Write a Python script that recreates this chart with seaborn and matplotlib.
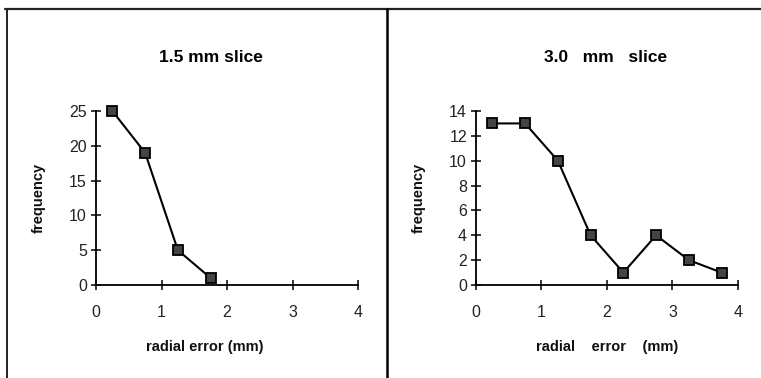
import matplotlib
matplotlib.use("Agg")
import matplotlib.pyplot as plt
import seaborn as sns
import pandas as pd
from matplotlib.lines import Line2D

sns.set_theme(style="white")
plt.rcParams['font.family'] = ['Liberation Sans', 'DejaVu Sans']

# Data
x_left = [0.25, 0.75, 1.25, 1.75]
freq_left = [25, 19, 5, 1]
x_right = [0.25, 0.75, 1.25, 1.75, 2.25, 2.75, 3.25, 3.75]
freq_right = [13, 13, 10, 4, 1, 4, 2, 1]
titles = ["1.5 mm slice", "3.0   mm   slice"]
xlabels = ["radial error (mm)", "radial    error    (mm)"]
yticks_left = [0, 5, 10, 15, 20, 25]
yticks_right = [0, 2, 4, 6, 8, 10, 12, 14]
xticks = [0, 1, 2, 3, 4]

W, H = 761, 378
fig = plt.figure(figsize=(W / 100, H / 100), dpi=100)
fig.patch.set_facecolor("white")

def fx(px):
    return px / W

def fy(py):
    return 1 - py / H

panels = [
    (96, x_left, freq_left, yticks_left, 25, titles[0], xlabels[0], 211, 205),
    (476, x_right, freq_right, yticks_right, 14, titles[1], xlabels[1], 606, 607),
]

for (x0, xs, ys, yt, ymax, title, xlabel, tx, lx) in panels:
    ax = fig.add_axes([fx(x0), fy(285), (358 - 96) / W, (285 - 111) / H])
    df = pd.DataFrame({"x": xs, "y": ys})
    sns.lineplot(data=df, x="x", y="y", ax=ax, color="black", lw=1.5,
                 marker="s", markersize=7, markerfacecolor="#444444",
                 markeredgecolor="black", markeredgewidth=1.3)
    for ln in ax.lines:
        ln.set_clip_on(False)
    ax.set_xlim(0, 4)
    ax.set_ylim(0, ymax)
    ax.set_xticks(xticks)
    ax.set_yticks(yt)
    ax.set_xlabel("")
    ax.set_ylabel("")
    for s in ["top", "right"]:
        ax.spines[s].set_visible(False)
    for s in ["left", "bottom"]:
        ax.spines[s].set_color("black")
        ax.spines[s].set_linewidth(1.3)
    ax.tick_params(axis="both", which="major", direction="inout", length=7,
                   width=1.1, colors="black", labelsize=11.5,
                   labelcolor="#222222", bottom=True, left=True)
    ax.tick_params(axis="x", pad=11)
    ax.tick_params(axis="y", pad=3)
    ax.patch.set_alpha(0)
    fig.text(fx(tx), fy(57), title, ha="center", va="center",
             fontsize=12.5, fontweight="bold", color="black")
    fig.text(fx(lx), fy(347), xlabel, ha="center", va="center",
             fontsize=10.5, fontweight="bold", color="#111111")
    fig.text(fx(x0 - 57), fy(198), "frequency", ha="center", va="center",
             rotation=90, fontsize=10.5, fontweight="bold", color="#111111")

# Frame lines
fig.add_artist(Line2D([fx(5), fx(761)], [fy(9), fy(9)], color="#222222", lw=1.6))
fig.add_artist(Line2D([fx(6.5), fx(6.5)], [fy(9), fy(378)], color="#222222", lw=1.4))
fig.add_artist(Line2D([fx(387), fx(387)], [fy(9), fy(378)], color="black", lw=1.8))

fig.savefig("out.png", dpi=100, facecolor="white")
